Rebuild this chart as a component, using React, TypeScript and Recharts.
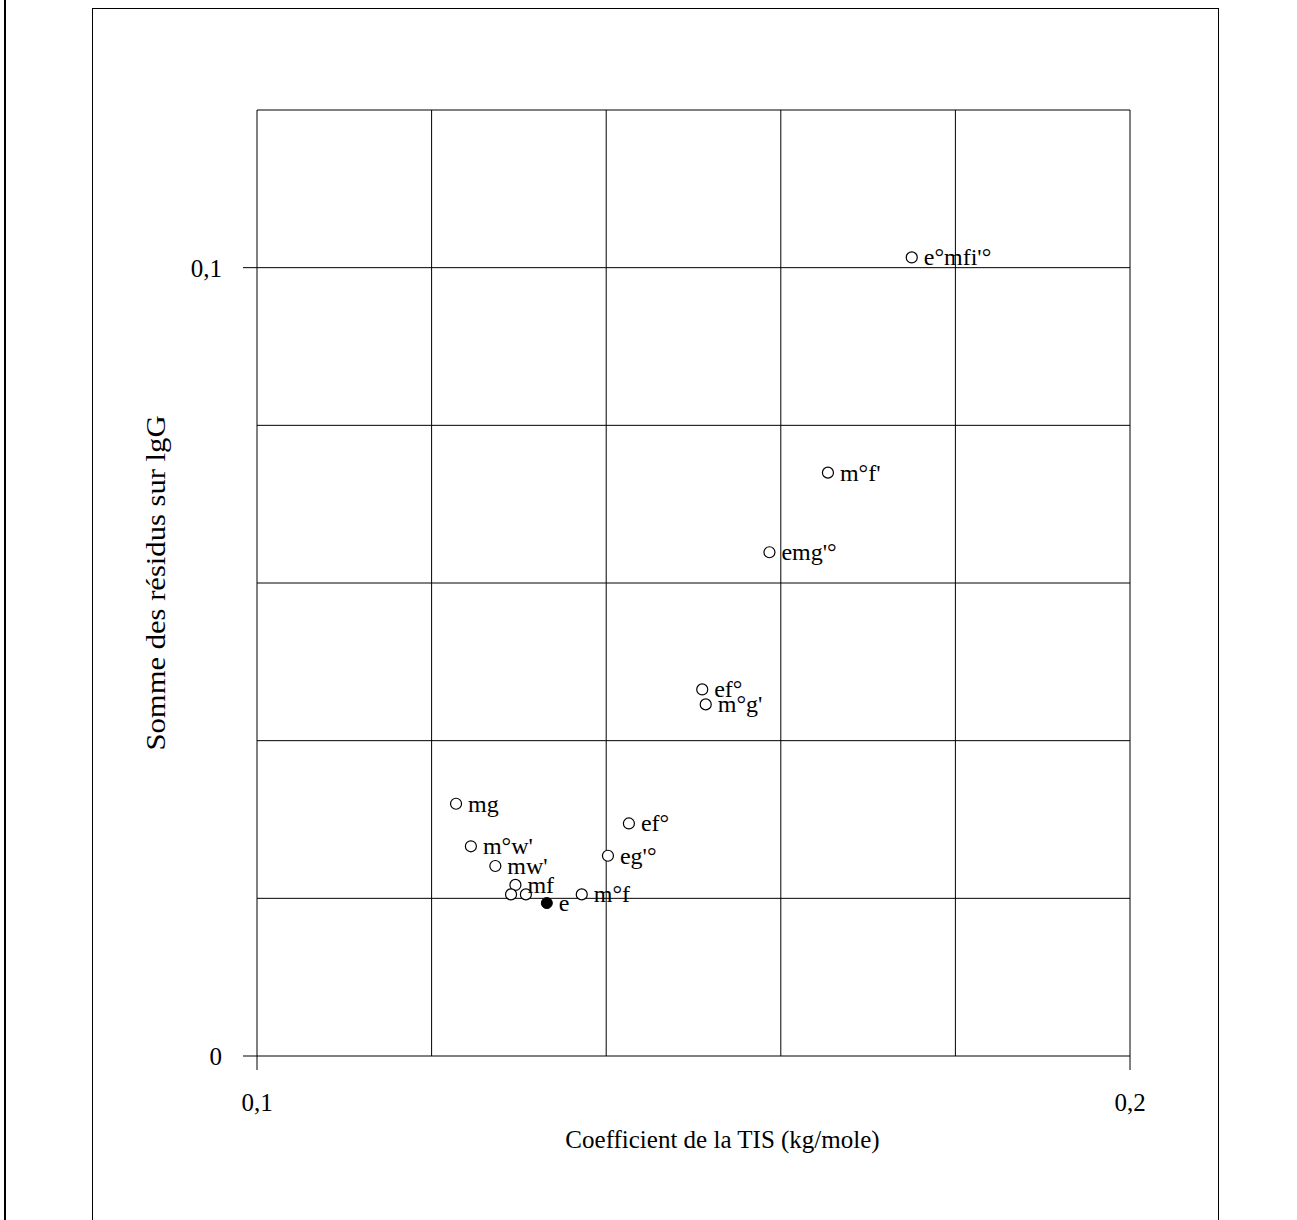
import React from 'react';
import { ScatterChart, Scatter, XAxis, YAxis, CartesianGrid, LabelList, Label } from 'recharts';

// Open points: combinations of descriptors
const labels = ["e°mfi'°", "m°f'", "emg'°", 'ef°', "m°g'", 'mg', 'ef°', "m°w'", "eg'°", "mw'", 'mf', '', '', 'm°f'];
const tisCoef = [0.1750, 0.1654, 0.1587, 0.1510, 0.1514, 0.1228, 0.1426, 0.1245, 0.1402, 0.1273, 0.1296, 0.1291, 0.1308, 0.1372];
const residus = [0.1013, 0.0740, 0.0639, 0.0465, 0.0446, 0.0320, 0.0295, 0.0266, 0.0254, 0.0241, 0.0217, 0.0205, 0.0205, 0.0205];

// Reference point (filled)
const refLabels = ['e'];
const refCoef = [0.1332];
const refResidus = [0.0194];

const xTicks = [0.1, 0.2];
const yTicks = [0, 0.1];
const xGrid = [0.12, 0.14, 0.16, 0.18, 0.2];
const yGrid = [0.02, 0.04, 0.06, 0.08, 0.1, 0.12];

const openData = labels.map((name, i) => ({ name, x: tisCoef[i], y: residus[i] }));
const refData = refLabels.map((name, i) => ({ name, x: refCoef[i], y: refResidus[i] }));

const FONT = '"Liberation Serif", "Times New Roman", serif';
const fmt = (v: number) => String(v).replace('.', ',');

const OpenDot = (props: any) => (
  <circle cx={props.cx} cy={props.cy} r={5.5} fill="#fff" stroke="#000" strokeWidth={1.2} />
);
const FilledDot = (props: any) => (
  <circle cx={props.cx} cy={props.cy} r={5.5} fill="#000" stroke="#000" strokeWidth={1} />
);

const PointLabel = (props: any) => {
  const { x, y, width, height, value } = props;
  if (!value) return null;
  const cx = x + (width || 0) / 2;
  const cy = y + (height || 0) / 2;
  return (
    <text x={cx + 12} y={cy + 8} fontFamily={FONT} fontSize={24} fill="#000">
      {value}
    </text>
  );
};

const App = () => {
  return (
    <div style={{ position: 'absolute', left: 0, top: 0, width: 1297, height: 1220, background: '#fff' }}>
      <div style={{ position: 'absolute', left: 4, top: 0, width: 0, height: 1220, borderLeft: '2px solid #000' }} />
      <div
        style={{
          position: 'absolute',
          left: 92,
          top: 8,
          width: 1125,
          height: 1220,
          borderLeft: '1.5px solid #000',
          borderTop: '1.5px solid #000',
          borderRight: '1.5px solid #000',
        }}
      />
      <div style={{ position: 'absolute', left: 0, top: 0 }}>
        <ScatterChart width={1297} height={1220} margin={{ top: 110, right: 167, bottom: 104, left: 197 }}>
          <CartesianGrid
            stroke="#000"
            strokeWidth={1}
            horizontalValues={yGrid}
            verticalValues={xGrid}
          />
          <XAxis
            type="number"
            dataKey="x"
            domain={[0.1, 0.2]}
            ticks={xTicks}
            tickFormatter={fmt}
            height={60}
            stroke="#000"
            tickSize={14}
            tickMargin={23}
            tick={{ fill: '#000', fontFamily: FONT, fontSize: 25 }}
            allowDataOverflow
          >
            <Label
              content={(p: any) => (
                <text
                  x={p.viewBox.x + p.viewBox.width / 2 + 29}
                  y={1148}
                  textAnchor="middle"
                  fontFamily={FONT}
                  fontSize={25}
                  fill="#000"
                >
                  Coefficient de la TIS (kg/mole)
                </text>
              )}
            />
          </XAxis>
          <YAxis
            type="number"
            dataKey="y"
            domain={[0, 0.12]}
            ticks={yTicks}
            tickFormatter={fmt}
            width={60}
            stroke="#000"
            tickSize={14}
            tickMargin={21}
            tick={{ fill: '#000', fontFamily: FONT, fontSize: 25 }}
            allowDataOverflow
          >
            <Label
              content={(p: any) => {
                const cy = p.viewBox.y + p.viewBox.height / 2;
                return (
                  <text
                    x={155}
                    y={cy}
                    transform={`rotate(-90, 155, ${cy})`}
                    textAnchor="middle"
                    dominantBaseline="central"
                    fontFamily={FONT}
                    fontSize={28}
                    textLength={335}
                    lengthAdjust="spacingAndGlyphs"
                    fill="#000"
                  >
                    Somme des résidus sur lgG
                  </text>
                );
              }}
            />
          </YAxis>
          <Scatter data={openData} shape={OpenDot} isAnimationActive={false}>
            <LabelList dataKey="name" content={PointLabel} />
          </Scatter>
          <Scatter data={refData} shape={FilledDot} isAnimationActive={false}>
            <LabelList dataKey="name" content={PointLabel} />
          </Scatter>
        </ScatterChart>
      </div>
    </div>
  );
};

export default App;
